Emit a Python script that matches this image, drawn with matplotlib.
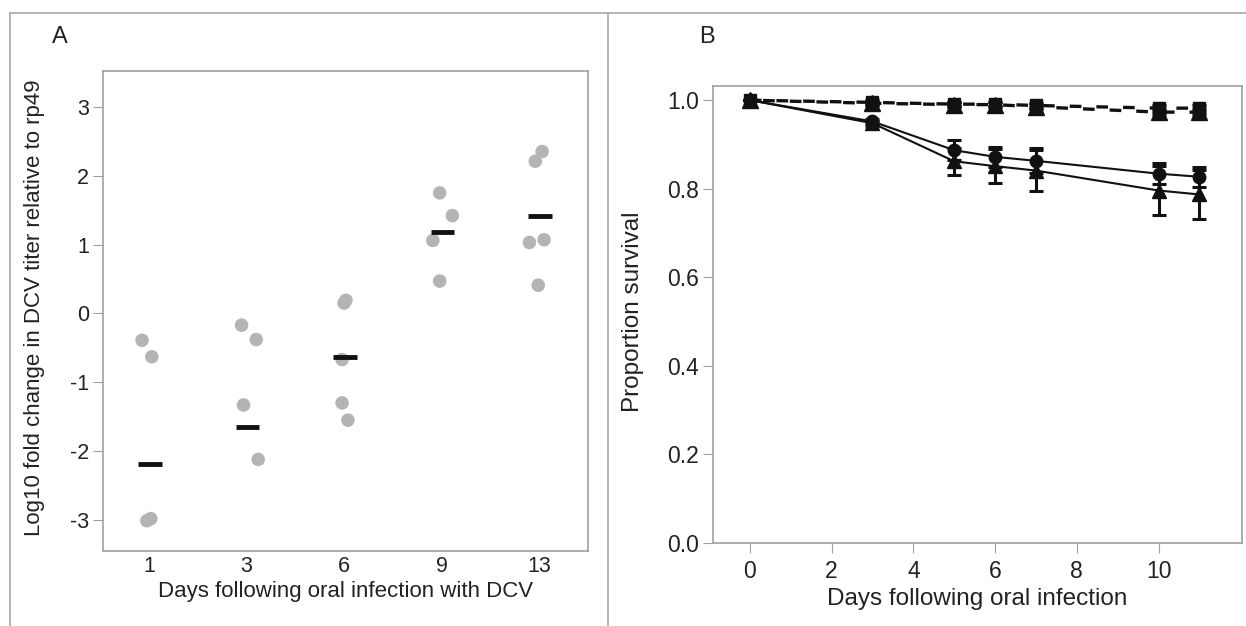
import numpy as np
import matplotlib
matplotlib.use('Agg')
import matplotlib.pyplot as plt
from matplotlib.lines import Line2D

plt.rcParams.update({
    'font.family': ['Liberation Sans', 'DejaVu Sans'],
    'font.size': 14,
    'axes.unicode_minus': False,
    'text.color': '#222222',
    'axes.labelcolor': '#222222',
    'xtick.labelcolor': '#222222',
    'ytick.labelcolor': '#222222',
})

# ── Panel A: DCV titer per replicate ──────────────────────────────────────
days_a = ['1', '3', '6', '9', '13']
titer_vals = [
    [-0.39, -0.63, -3.01, -2.98],
    [-0.17, -0.38, -1.33, -2.12],
    [0.15, 0.19, -0.67, -1.30, -1.55],
    [1.75, 1.42, 1.06, 0.47],
    [2.35, 2.21, 1.07, 1.03, 0.41],
]
# small horizontal jitter
titer_jit = [
    [-0.07, 0.03, -0.02, 0.02],
    [-0.05, 0.10, -0.03, 0.12],
    [0.00, 0.02, -0.02, -0.02, 0.04],
    [-0.02, 0.11, -0.09, -0.02],
    [0.03, -0.04, 0.05, -0.10, -0.01],
]
titer_mean = [-2.19, -1.65, -0.63, 1.18, 1.41]

# ── Panel B: survival ─────────────────────────────────────────────────────
days_b = [0, 3, 5, 6, 7, 10, 11]
surv_circ = [1.0, 0.952, 0.887, 0.872, 0.863, 0.834, 0.827]
err_circ = [0.0, 0.006, 0.022, 0.023, 0.028, 0.024, 0.022]
surv_tri = [1.0, 0.948, 0.862, 0.851, 0.841, 0.796, 0.787]
err_tri = [0.0, 0.006, 0.031, 0.039, 0.046, 0.056, 0.055]
surv_ctl_sq = [1.0, 0.995, 0.991, 0.991, 0.988, 0.982, 0.982]
err_ctl_sq = [0.0, 0.006, 0.005, 0.005, 0.006, 0.008, 0.008]
surv_ctl_tri = [1.0, 0.993, 0.990, 0.990, 0.985, 0.973, 0.973]
err_ctl_tri = [0.0, 0.005, 0.005, 0.005, 0.006, 0.007, 0.007]

GRAY = '#a0a0a0'
PT = '#b4b4b4'
INK = '#111111'

W, H = 1246, 626
fig = plt.figure(figsize=(W / 100, H / 100), dpi=100)

# panel frame lines
top = 1 - 12.5 / H
for xs, ys in [([10 / W, 1.0], [top, top]),
               ([10 / W] * 2, [0, top]),
               ([608 / W] * 2, [0, top])]:
    fig.add_artist(Line2D(xs, ys, transform=fig.transFigure, color='#a8a8a8', lw=1.2))

# ── A ──
axA = fig.add_axes([103 / W, (H - 551) / H, 485 / W, 480 / H])
for i, (vals, jit) in enumerate(zip(titer_vals, titer_jit)):
    xs = [i + j for j in jit]
    axA.scatter(xs, vals, s=95, color=PT, edgecolors='none', zorder=2)
    axA.hlines(titer_mean[i], i - 0.11, i + 0.13, color=INK, lw=3.5, zorder=3)
axA.set_xlim(-0.47, 4.5)
axA.set_ylim(-3.45, 3.52)
axA.set_xticks(range(len(days_a)))
axA.set_xticklabels(days_a)
axA.set_yticks(range(-3, 4))
axA.tick_params(axis='x', length=0, pad=3.5, labelsize=15.5)
axA.tick_params(axis='y', length=7, color=GRAY, labelsize=15.5, pad=3)
for sp in axA.spines.values():
    sp.set_color(GRAY)
    sp.set_linewidth(1.2)
axA.set_xlabel('Days following oral infection with DCV', fontsize=16)
axA.set_ylabel('Log10 fold change in DCV titer relative to rp49', fontsize=16)
axA.xaxis.set_label_coords(0.5, -(591 - 551) / 480)
axA.yaxis.set_label_coords(-(103 - 35) / 485, (551 - 308) / 480)
axA.xaxis.label.set_va('center')
axA.yaxis.label.set_va('center')
fig.text(60 / W, 1 - 37 / H, 'A', fontsize=17, ha='center', va='center')

# ── B ──
axB = fig.add_axes([713 / W, (H - 543) / H, 529 / W, 457 / H])
ekw = dict(color=INK, capsize=5, elinewidth=2.2, capthick=2.2, mfc=INK, mec=INK)
axB.errorbar(days_b, surv_ctl_sq, yerr=err_ctl_sq, fmt='s', ms=8, ls=(0, (3.5, 4.5)), lw=2.4,
             zorder=3, **ekw)
axB.errorbar(days_b, surv_ctl_tri, yerr=err_ctl_tri, fmt='^', ms=11, ls=(4, (3.5, 4.5)), lw=2.4,
             zorder=5, **ekw)
axB.errorbar(days_b, surv_circ, yerr=err_circ, fmt='o', ms=9, ls='-', lw=1.5,
             zorder=4, **ekw)
axB.errorbar(days_b, surv_tri, yerr=err_tri, fmt='^', ms=10, ls='-', lw=1.5,
             zorder=4, **ekw)
axB.set_xlim(-0.9, 12.04)
axB.set_ylim(0, 1.032)
axB.set_xticks([0, 2, 4, 6, 8, 10])
axB.set_yticks([0.0, 0.2, 0.4, 0.6, 0.8, 1.0])
axB.set_yticklabels(['0.0', '0.2', '0.4', '0.6', '0.8', '1.0'])
axB.tick_params(length=7, color=GRAY, labelsize=16.5, pad=3)
axB.tick_params(axis='x', pad=5.5)
for sp in axB.spines.values():
    sp.set_color(GRAY)
    sp.set_linewidth(1.2)
axB.set_xlabel('Days following oral infection', fontsize=17.5)
axB.set_ylabel('Proportion survival', fontsize=17.5)
axB.xaxis.set_label_coords(0.5, -(599 - 543) / 457)
axB.yaxis.set_label_coords(-(713 - 633) / 529, (543 - 312) / 457)
axB.xaxis.label.set_va('center')
axB.yaxis.label.set_va('center')
fig.text(707 / W, 1 - 37 / H, 'B', fontsize=17, ha='center', va='center')

fig.savefig('out.png', dpi=100, facecolor='white')
